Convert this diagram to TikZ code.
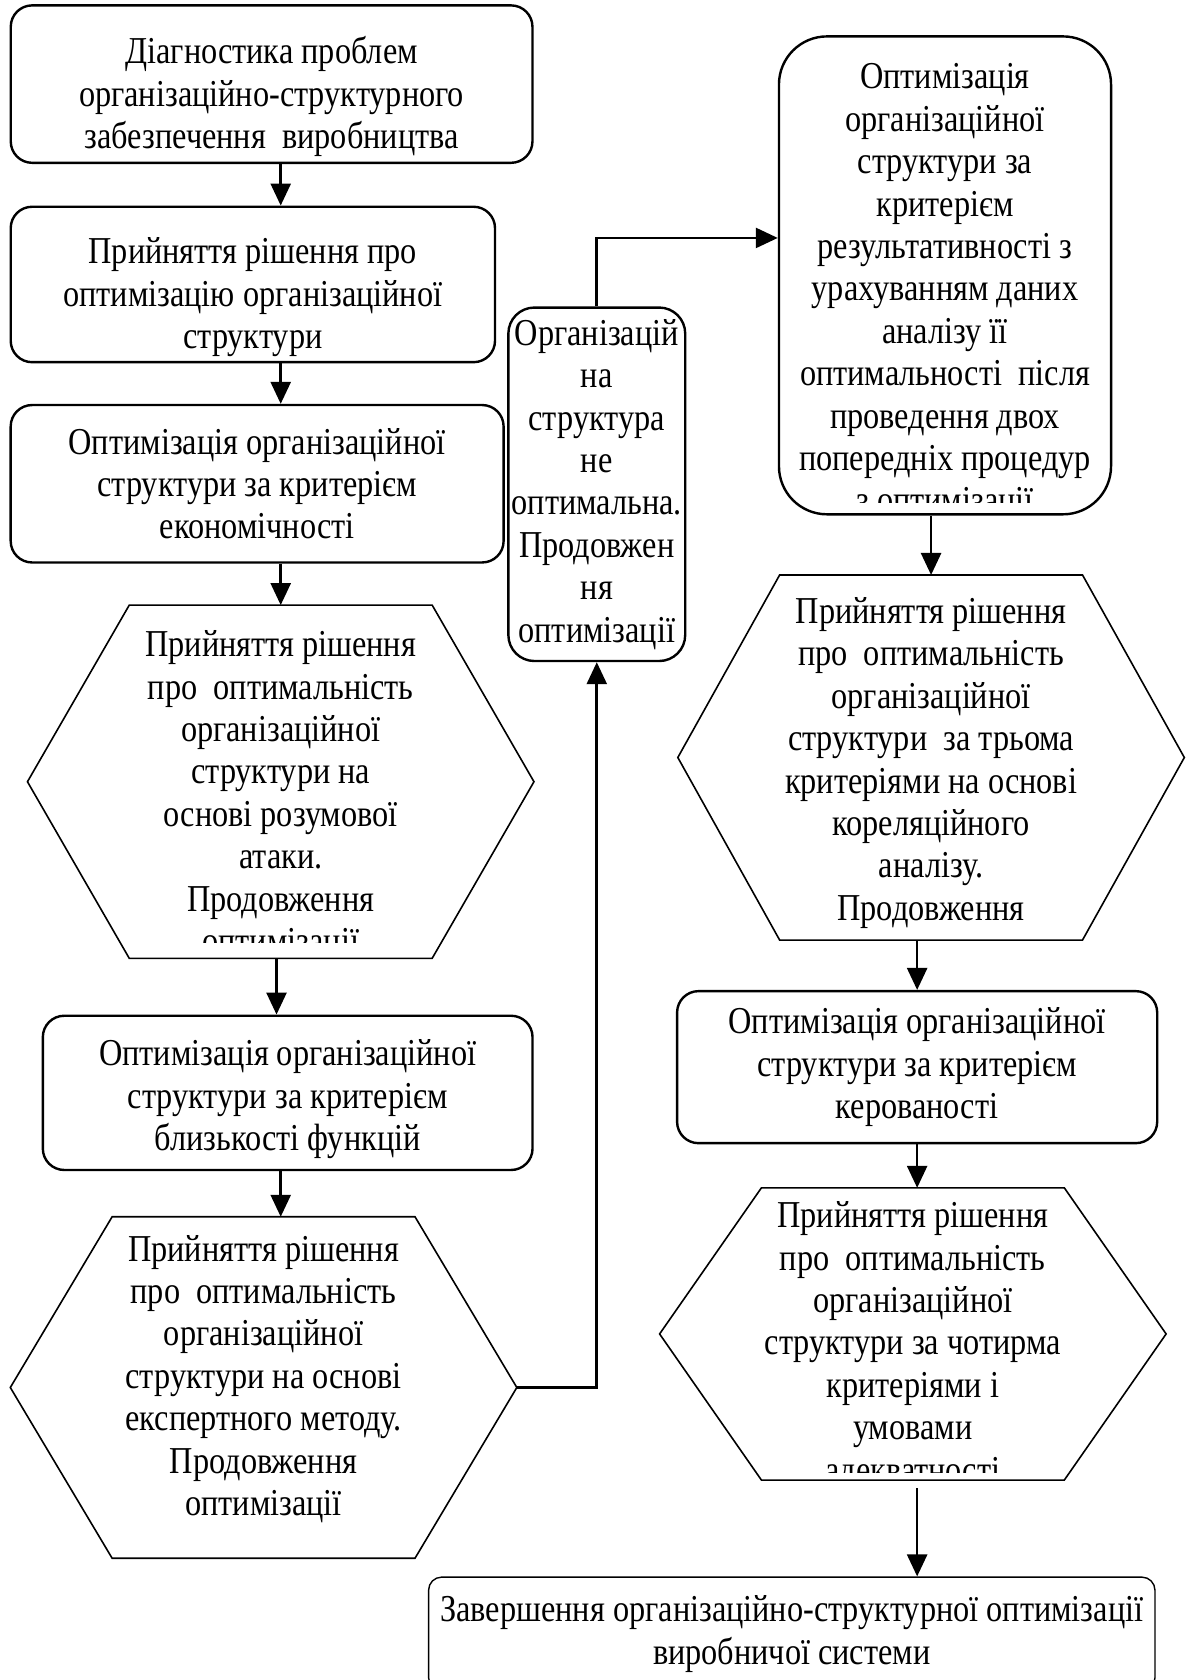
\documentclass[tikz,border=0pt]{standalone}
\usepackage{fontspec}
\setmainfont{Liberation Serif}[FakeStretch=0.85]
\usetikzlibrary{positioning,arrows.meta}

\begin{document}
\begin{tikzpicture}[x=0.5356pt, y=0.5356pt,
    box/.style = {draw, line width=1.2pt, rounded corners=10.7pt, align=center, inner sep=1pt, font=\fontsize{19}{21.2}\selectfont},
    hexa/.style = {inner sep=0pt, minimum width=151pt},
    txt/.style = {align=center, inner sep=0pt, font=\fontsize{19}{21.2}\selectfont},
    hexline/.style = {line width=0.8pt},
    arr/.style = {line width=1.3pt, -{Triangle[length=11pt, width=10pt]}}]
    \useasboundingbox (0,0) rectangle (1109,-1568);

    \node[box, minimum width=260.8pt, minimum height=78.7pt, label={[txt, yshift=-6.2pt]center:{Діагностика проблем\\організаційно-структурного\\забезпечення\ \ виробництва}}] (1) at (253.5,-78.5) {};
    \node[box, minimum width=242.1pt, minimum height=77.7pt, label={[txt, yshift=-6.4pt]center:{Прийняття рішення про\\оптимізацію організаційної\\структури}}] (2) at (236,-265.5) {};
    \node[box, minimum width=246.4pt, minimum height=78.7pt] (3) at (240,-451.5) {Оптимізація організаційної\\структури за критерієм\\економічності};
    \node[hexa, minimum height=176.2pt] (4) at (262,-729.6) {};
    \node[box, minimum width=244.8pt, minimum height=77.1pt, label={[txt, yshift=-3.2pt]center:{Оптимізація організаційної\\структури за критерієм\\близькості функцій}}] (5) at (268.5,-1020) {};
    \node[hexa, minimum height=170.3pt] (6) at (246,-1295) {};
    \node[txt] (6t) at (246,-1287) {Прийняття рішення\\про\ \ оптимальність\\організаційної\\структури на основі\\експертного методу.\\Продовження\\оптимізації};
    \node[box, rounded corners=13pt, minimum width=88.4pt, minimum height=176.7pt] (7) at (557,-452) {Організацій\\на\\структура\\не\\оптимальна.\\Продовжен\\ня\\оптимізації};
    \node[box, rounded corners=24pt, minimum width=166pt, minimum height=238.9pt] (8) at (882,-257) {};
    \node[hexa, minimum height=182.1pt] (9) at (869,-707) {};
    \node[txt] (9t) at (869,-712) {Прийняття рішення\\про\ \ оптимальність\\організаційної\\структури\ \ за трьома\\критеріями на основі\\кореляційного\\аналізу.\\Продовження};
    \node[box, minimum width=240pt, minimum height=76pt] (10) at (856,-996) {Оптимізація організаційної\\структури за критерієм\\керованості};
    \node[hexa, minimum height=145.7pt] (11) at (852,-1245) {};
    \node[box, line width=0.7pt, rounded corners=6.5pt, minimum width=363.1pt, minimum height=56.8pt] (12) at (739,-1525) {Завершення організаційно-структурної оптимізації\\виробничої системи};

    \begin{scope}
        \clip ([xshift=-50pt]4.north west) rectangle ([xshift=50pt, yshift=8pt]4.south east);
        \node[txt, below=12.6pt of 4.north] (4t) {Прийняття рішення\\про\ \ оптимальність\\організаційної\\структури на\\основі розумової\\атаки.\\Продовження\\оптимізації};
    \end{scope}
    \begin{scope}
        \clip ([yshift=6.5pt]8.south west) rectangle (8.north east);
        \node[txt, below=14pt of 8.north] (8t) {Оптимізація\\організаційної\\структури за\\критерієм\\результативності з\\урахуванням даних\\аналізу її\\оптимальності\ \ після\\проведення двох\\попередніх процедур\\з оптимізації};
    \end{scope}
    \begin{scope}
        \clip ([xshift=-50pt, yshift=3.6pt]11.south west) rectangle ([xshift=50pt]11.north east);
        \node[txt, below=6.7pt of 11.north] (11t) {Прийняття рішення\\про\ \ оптимальність\\організаційної\\структури за чотирма\\критеріями і\\умовами\\адекватності};
    \end{scope}

    \draw[hexline] (4.north west) -- (4.north east) -- ([xshift=50.9pt]4.east) -- (4.south east) -- (4.south west) -- ([xshift=-50.9pt]4.west) -- cycle;
    \draw[hexline] (6.north west) -- (6.north east) -- ([xshift=50.9pt]6.east) -- (6.south east) -- (6.south west) -- ([xshift=-50.9pt]6.west) -- cycle;
    \draw[hexline] (9.north west) -- (9.north east) -- ([xshift=50.9pt]9.east) -- (9.south east) -- (9.south west) -- ([xshift=-50.9pt]9.west) -- cycle;
    \draw[hexline] (11.north west) -- (11.north east) -- ([xshift=50.9pt]11.east) -- (11.south east) -- (11.south west) -- ([xshift=-50.9pt]11.west) -- cycle;
    \coordinate (6r) at ([xshift=50.9pt]6.east);

    \draw[arr] (1.south -| 4.north) -- (2.north -| 4.north);
    \draw[arr] (2.south -| 4.north) -- (3.north -| 4.north);
    \draw[arr] (3.south -| 4.north) -- (4.north);
    \draw[arr] ([xshift=-2.1pt]4.south) -- ([xshift=-2.1pt]4.south |- 5.north);
    \draw[arr] (5.south -| 4.north) -- (6.north -| 4.north);
    \draw[arr] (6r) -| (7.south);
    \draw[arr] (7.north) |- ([yshift=18.7pt]8.west);
    \draw[arr] (8.south -| 9.north) -- (9.north);
    \draw[arr] (9.south -| 10.north) -- (10.north);
    \draw[arr] (10.south) -- (10.south |- 11.north);
    \draw[arr] ([yshift=-4pt]11.south -| 10.south) -- (10.south |- 12.north);
\end{tikzpicture}
\end{document}
